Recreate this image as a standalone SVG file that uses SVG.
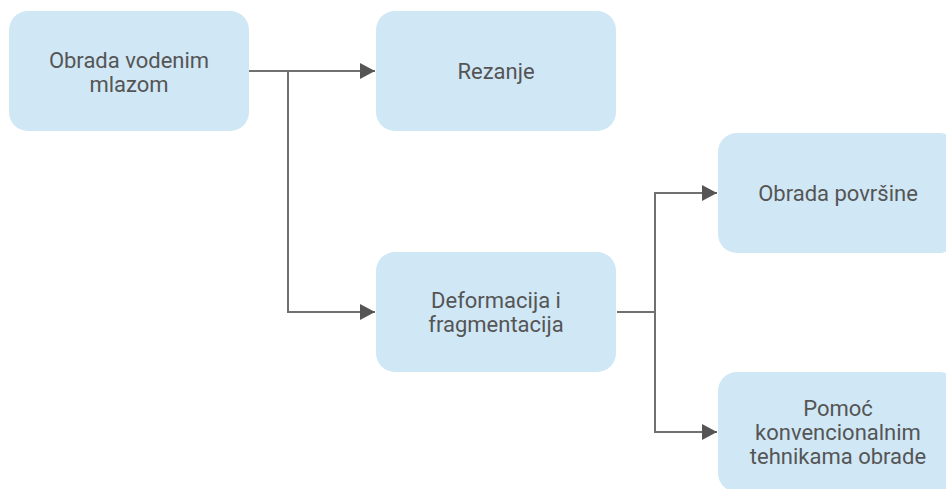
<svg xmlns="http://www.w3.org/2000/svg" width="946" height="489" viewBox="0 0 946 489">
  <style>
    .node rect { fill: #d0e7f5; stroke: none; }
    .node text { font-family: Roboto, "Liberation Sans", sans-serif; font-size: 22px; fill: #555555; text-anchor: middle; }
    .conn path { fill: none; stroke: #707070; stroke-width: 2; }
  </style>
  <defs>
    <marker id="arrow" markerUnits="userSpaceOnUse" markerWidth="16" markerHeight="16" refX="15" refY="8" orient="auto">
      <path d="M0,0 L15,8 L0,16 z" fill="#555555"/>
    </marker>
  </defs>
  <rect width="946" height="489" fill="#ffffff"/>

  <g id="connectors" class="conn">
    <path d="M249,71 H375" marker-end="url(#arrow)"/>
    <path d="M249,71 H288 V312 H375" marker-end="url(#arrow)"/>
    <path d="M617,312 H655 V193 H717" marker-end="url(#arrow)"/>
    <path d="M617,312 H655 V432 H717" marker-end="url(#arrow)"/>
  </g>

  <g id="node-obrada-vodenim-mlazom" class="node">
    <rect x="9" y="11" width="240" height="120" rx="19"/>
    <text x="129" y="67.5">Obrada vodenim</text>
    <text x="129" y="91.5">mlazom</text>
  </g>

  <g id="node-rezanje" class="node">
    <rect x="376" y="11" width="240" height="120" rx="19"/>
    <text x="496" y="79">Rezanje</text>
  </g>

  <g id="node-deformacija" class="node">
    <rect x="376" y="252" width="240" height="120" rx="19"/>
    <text x="496" y="308">Deformacija i</text>
    <text x="496" y="332">fragmentacija</text>
  </g>

  <g id="node-obrada-povrsine" class="node">
    <rect x="718" y="133" width="240" height="120" rx="19"/>
    <text x="838" y="201">Obrada površine</text>
  </g>

  <g id="node-pomoc" class="node">
    <rect x="718" y="372" width="240" height="120" rx="19"/>
    <text x="838" y="416">Pomoć</text>
    <text x="838" y="440">konvencionalnim</text>
    <text x="838" y="464">tehnikama obrade</text>
  </g>
</svg>
